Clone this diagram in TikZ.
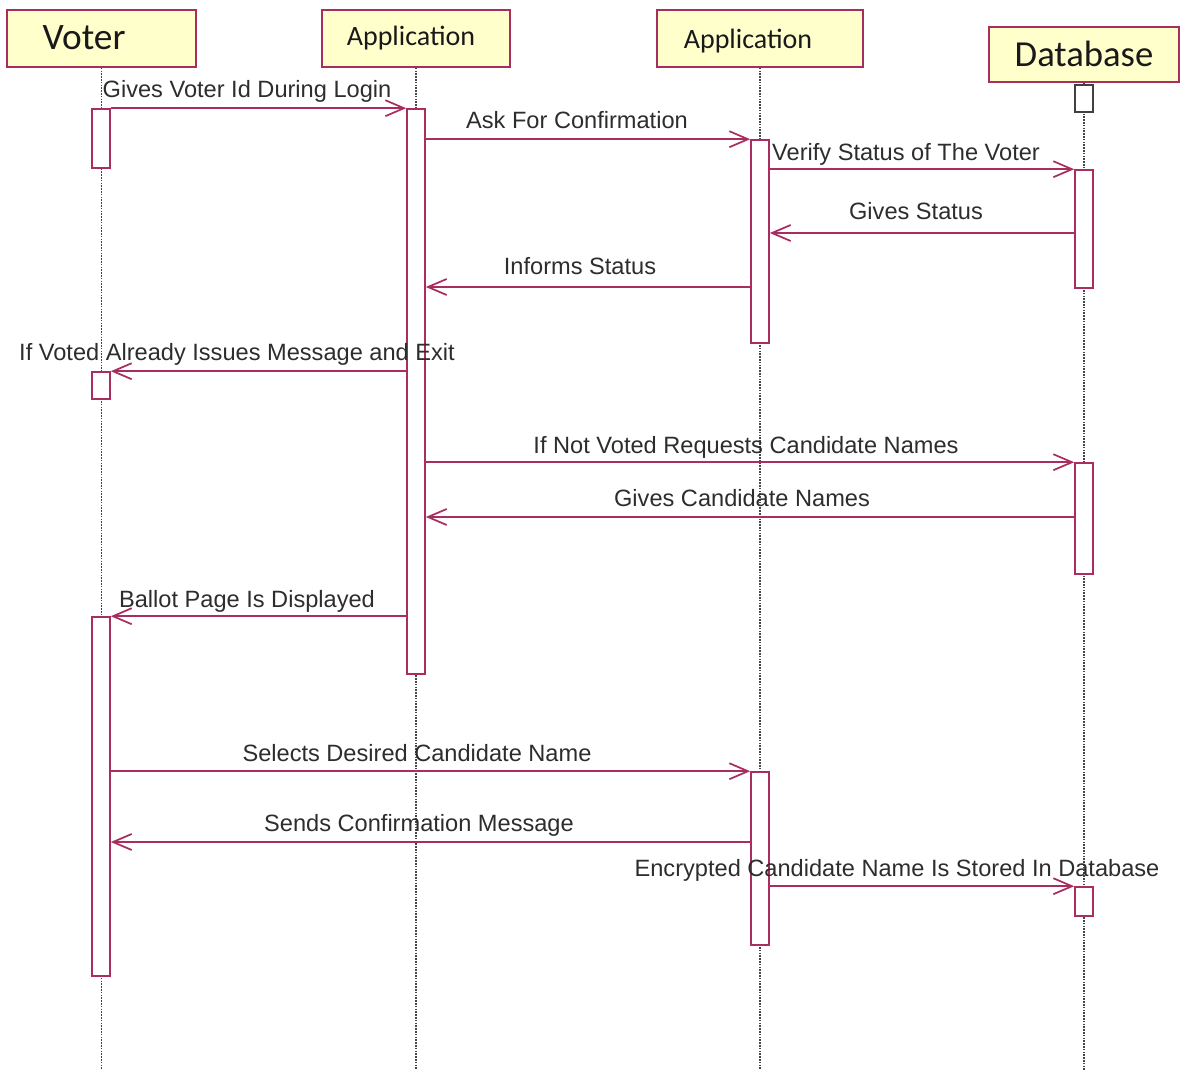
\documentclass[tikz,border=0pt]{standalone}
\usepackage{fontspec}
\setmainfont{Liberation Sans}
\newfontfamily\headfont{Carlito}
\usetikzlibrary{arrows.meta,fit}
\definecolor{umlline}{RGB}{170,45,95}
\definecolor{umlfill}{RGB}{255,255,204}
\definecolor{umltext}{RGB}{45,45,45}
\definecolor{lifegray}{RGB}{70,70,70}
\begin{document}
\begin{tikzpicture}[x=0.75pt,y=-0.75pt,
  head/.style={draw=umlline,fill=umlfill,line width=1.3pt,inner sep=0pt},
  headtext/.style={font=\headfont, text=black!90, inner sep=0pt},
  life/.style={draw=lifegray,line width=1.3pt,dash pattern=on 1.2pt off 0.9pt},
  act/.style={draw=umlline,fill=white,line width=1.2pt,inner sep=0pt},
  idle/.style={draw=black!75,fill=white,line width=1.2pt,inner sep=0pt},
  msg/.style={draw=umlline,line width=1.3pt,-{Straight Barb[length=14pt,width=12pt]}},
  lbl/.style={font=\fontsize{17.7}{19}\selectfont,text=umltext,anchor=base,inner sep=0pt}]
\useasboundingbox (0,0) rectangle (1186,1070);

% participant heads
\node[head,fit={(7,10) (196,67)}] (hv) {};
\node[head,fit={(322,10) (510,67)}] (ha) {};
\node[head,fit={(657,10) (863,67)}] (hb) {};
\node[head,fit={(989,27) (1179,82)}] (hd) {};
\node[headtext,font=\headfont\fontsize{28}{30}\selectfont] (tv) at (84,38) {Voter};
\node[headtext,font=\headfont\fontsize{21}{24}\selectfont] (ta) at (411,38) {Application};
\node[headtext,font=\headfont\fontsize{21}{24}\selectfont] (tb) at (748,41) {Application};
\node[headtext,font=\headfont\fontsize{27.5}{30}\selectfont] (td) at (1084,54) {Database};

% lifelines
\coordinate (endv) at (101.5,1070);
\coordinate (enda) at (416,1070);
\coordinate (endb) at (760,1070);
\coordinate (endd) at (1084,1070);
\draw[life] (hv.south) -- (hv.south |- endv);
\draw[life] (ha.south) -- (ha.south |- enda);
\draw[life] (hb.south) -- (hb.south |- endb);
\draw[life] (hd.south) -- (hd.south |- endd);

% activation bars
\node[act,fit={(92,109) (110,168)}] (v1) {};
\node[act,fit={(92,372) (110,399)}] (v2) {};
\node[act,fit={(92,617) (110,976)}] (v3) {};
\node[act,fit={(407,109) (425,674)}] (a1) {};
\node[act,fit={(751,140) (769,343)}] (b1) {};
\node[act,fit={(751,772) (769,945)}] (b2) {};
\node[idle,fit={(1075,85) (1093,112)}] (d0) {};
\node[act,fit={(1075,170) (1093,288)}] (d1) {};
\node[act,fit={(1075,463) (1093,574)}] (d2) {};
\node[act,fit={(1075,887) (1093,916)}] (d3) {};

% messages
\draw[msg] (v1.north east) -- (a1.north west);
\node[lbl] (l1) at (247,98) {Gives Voter Id During Login};

\draw[msg] (a1.east |- b1.north) -- (b1.north west);
\node[lbl] (l2) at (577,129) {Ask For Confirmation};

\draw[msg] (b1.east |- d1.north) -- (d1.north west);
\node[lbl] (l3) at (906,161) {Verify Status of The Voter};

\draw[msg] (d1.west |- 0,233) -- (b1.east |- 0,233);
\node[lbl] (l4) at (916,220) {Gives Status};

\draw[msg] (b1.west |- 0,287) -- (a1.east |- 0,287);
\node[lbl] (l5) at (580,275) {Informs Status};

\draw[msg] (a1.west |- v2.north) -- (v2.north east);
\node[lbl] (l6) at (237,360) {If Voted Already Issues Message and Exit};

\draw[msg] (a1.east |- d2.north) -- (d2.north west);
\node[lbl] (l7) at (746,453) {If Not Voted Requests Candidate Names};

\draw[msg] (d2.west |- 0,517) -- (a1.east |- 0,517);
\node[lbl] (l8) at (742,506) {Gives Candidate Names};

\draw[msg] (a1.west |- v3.north) -- (v3.north east);
\node[lbl] (l9) at (247,607) {Ballot Page Is Displayed};

\draw[msg] (v3.east |- b2.north) -- (b2.north west);
\node[lbl] (l10) at (417,761) {Selects Desired Candidate Name};

\draw[msg] (b2.west |- 0,842) -- (v3.east |- 0,842);
\node[lbl] (l11) at (419,831) {Sends Confirmation Message};

\draw[msg] (b2.east |- d3.north) -- (d3.north west);
\node[lbl] (l12) at (897,876) {Encrypted Candidate Name Is Stored In Database};
\end{tikzpicture}
\end{document}
